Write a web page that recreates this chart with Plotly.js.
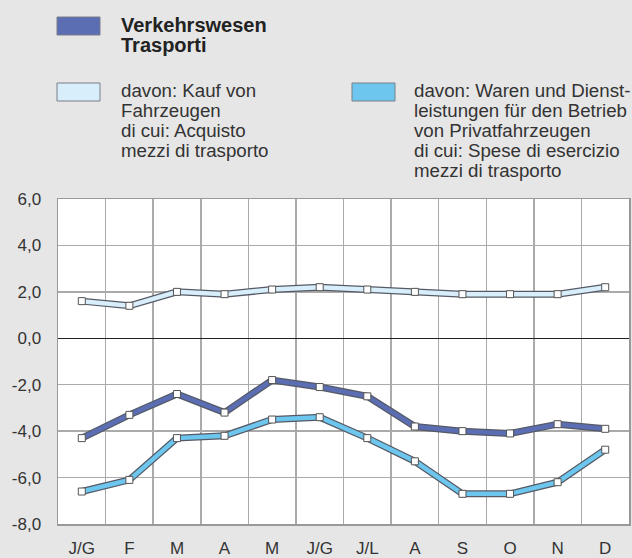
<!DOCTYPE html>
<html>
<head>
<meta charset="utf-8">
<script src="https://cdn.plot.ly/plotly-3.0.1.min.js"></script>
<style>
html,body{margin:0;padding:0;background:#e6e6e6;}
#chart{width:632px;height:558px;}
</style>
</head>
<body>
<div id="chart"></div>
<script>
const months = ["J/G","F","M","A","M ","J/G ","J/L","A ","S","O","N","D"];
const monthLabels = ["J/G","F","M","A","M","J/G","J/L","A","S","O","N","D"];
const verkehr = [-4.3,-3.3,-2.4,-3.2,-1.8,-2.1,-2.5,-3.8,-4.0,-4.1,-3.7,-3.9];
const kauf = [1.6,1.4,2.0,1.9,2.1,2.2,2.1,2.0,1.9,1.9,1.9,2.2];
const waren = [-6.6,-6.1,-4.3,-4.2,-3.5,-3.4,-4.3,-5.3,-6.7,-6.7,-6.2,-4.8];
const yTickVals = [-8,-6,-4,-2,0,2,4,6];
const yTickText = ["-8,0","-6,0","-4,0","-2,0","0,0","2,0","4,0","6,0"];
const legendVerkehr = ["Verkehrswesen","Trasporti"];
const legendKauf = ["davon: Kauf von","Fahrzeugen","di cui: Acquisto","mezzi di trasporto"];
const legendWaren = ["davon: Waren und Dienst-","leistungen für den Betrieb","von Privatfahrzeugen","di cui: Spese di esercizio","mezzi di trasporto"];

const colVerkehr = "#5b6db3";
const colKauf = "#d8eefa";
const colWaren = "#6cc6ee";
const outline = "#555a66";

function outlineTrace(y){
  return {x: months, y: y, type: "scatter", mode: "lines",
    line: {color: outline, width: 7}, hoverinfo: "skip", showlegend: false};
}
function mainTrace(y, c, name){
  return {x: months, y: y, type: "scatter", mode: "lines+markers", name: name,
    line: {color: c, width: 4.5},
    marker: {symbol: "square", size: 7, color: "#ffffff", line: {color: "#555", width: 1}},
    showlegend: false};
}

const data = [
  outlineTrace(kauf), mainTrace(kauf, colKauf, "Kauf"),
  outlineTrace(waren), mainTrace(waren, colWaren, "Waren"),
  outlineTrace(verkehr), mainTrace(verkehr, colVerkehr, "Verkehrswesen")
];

// pixel -> paper helpers
const L = 58, R = 629, T = 199, B = 524;
const px = v => (v - L) / (R - L);
const py = v => (B - v) / (B - T);

const FAM = '"Liberation Sans", Arial, sans-serif';

function swatch(x0, y0, c){
  return {type: "rect", xref: "paper", yref: "paper",
    x0: px(x0), x1: px(x0 + 43), y0: py(y0 + 18), y1: py(y0),
    fillcolor: c, line: {color: "#7a7f8a", width: 1}};
}
function lines(x, baseline0, arr, bold){
  const fs = bold ? 20 : 18.7;
  return arr.map((t, i) => ({xref: "paper", yref: "paper", x: px(x),
    y: py(baseline0 + 20 * i - 6), xanchor: "left", yanchor: "middle",
    text: bold ? "<b>" + t + "</b>" : t, showarrow: false, align: "left",
    font: {family: FAM, size: fs, color: bold ? "#222" : "#333"}}));
}

const layout = {
  width: 632, height: 558,
  margin: {l: L, r: 632 - R, t: T, b: 558 - B},
  paper_bgcolor: "#e6e6e6", plot_bgcolor: "#ffffff",
  font: {family: FAM, size: 17, color: "#333"},
  showlegend: false,
  xaxis: {type: "category", tickson: "boundaries", showgrid: true, gridcolor: "#aaaaaa", gridwidth: 1.5,
    tickvals: months, ticktext: monthLabels, ticks: "", ticklen: 0, ticklabelstandoff: 8,
    showline: true, mirror: true, linecolor: "#999", linewidth: 1.5,
    range: [-0.5, 11.5], tickfont: {family: FAM, size: 17, color: "#333"}, fixedrange: true},
  yaxis: {range: [-8, 6], tickvals: yTickVals, ticktext: yTickText, showgrid: true,
    gridcolor: "#aaaaaa", gridwidth: 1.5, zeroline: true, zerolinecolor: "#222", zerolinewidth: 1.5,
    showline: true, mirror: true, linecolor: "#999", linewidth: 1.5, ticks: "", ticklabelstandoff: 12,
    tickfont: {family: FAM, size: 17, color: "#333"}, fixedrange: true},
  shapes: [
    swatch(57, 17, colVerkehr),
    swatch(57, 83, colKauf),
    swatch(352, 83, colWaren)
  ],
  annotations: [].concat(
    lines(119, 31, legendVerkehr, true),
    lines(119, 97, legendKauf, false),
    lines(412, 97, legendWaren, false)
  )
};

Plotly.newPlot("chart", data, layout, {displayModeBar: false, staticPlot: true});
</script>
</body>
</html>
